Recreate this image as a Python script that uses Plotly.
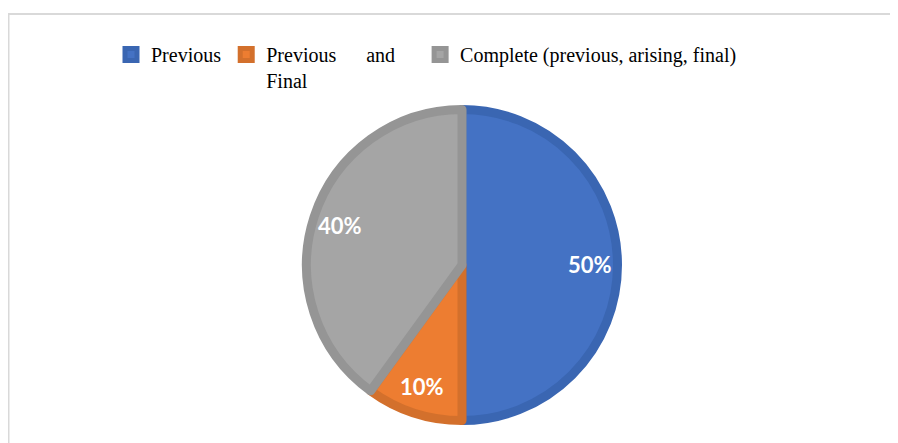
import math
import plotly.graph_objects as go

NB = "&#160;"
labels = ["Previous", "Previous" + NB * 6 + "and" + NB * 4 + "<br>Final", "Complete (previous, arising, final)"]
values = [50, 10, 40]
fill_colors = ["#4472C4", "#ED7D31", "#A5A5A5"]
edge_colors = ["#3A66B2", "#D3702C", "#959595"]

# page has an 8px body margin, so the figure is drawn 8px in from the window edge
W, H = 890, 435
cx_px, cy_px = 454, 257      # pie centre in figure pixels (from top-left)
R_out = 160                  # outer radius incl. border
LW = 9
R = R_out - LW / 2

dom_x = [(cx_px - R) / W, (cx_px + R) / W]
dom_y = [(H - cy_px - R) / H, (H - cy_px + R) / H]

fig = go.Figure()
fig.add_trace(go.Pie(
    labels=labels, values=values, sort=False, direction="clockwise", rotation=0,
    marker=dict(colors=fill_colors, line=dict(color=edge_colors, width=LW)),
    textinfo="none", hoverinfo="label+percent",
    domain=dict(x=dom_x, y=dom_y),
))

# percentage labels placed along each slice's mid-angle
total = sum(values)
cum = 0
for v in values:
    mid = (cum + v / 2) / total
    cum += v
    th = 2 * math.pi * mid
    r = 0.8 * R_out
    x = (cx_px + math.sin(th) * r) / W
    y = (H - cy_px + math.cos(th) * r) / H
    fig.add_annotation(x=x, y=y, xref="paper", yref="paper", showarrow=False,
                       xanchor="center", yanchor="middle",
                       text=f"<b>{round(100 * v / total)}%</b>",
                       font=dict(family="Lato", size=22, color="white"))

# chart frame
fig.add_shape(type="rect", xref="paper", yref="paper",
              x0=0.5 / W, x1=1.05, y0=-0.2, y1=(H - 6) / H,
              line=dict(color="#D9D9D9", width=2), fillcolor="rgba(0,0,0,0)", layer="below")

fig.update_layout(
    width=W, height=H,
    margin=dict(l=0, r=0, t=0, b=0),
    paper_bgcolor="white", plot_bgcolor="white",
    showlegend=True,
    legend=dict(orientation="h", x=103 / W, xanchor="left", y=(H - 27) / H, yanchor="top",
                font=dict(family="Liberation Serif", size=20, color="#000000"),
                valign="top", itemclick=False, traceorder="normal"),
)

fig.write_html("out.html")
